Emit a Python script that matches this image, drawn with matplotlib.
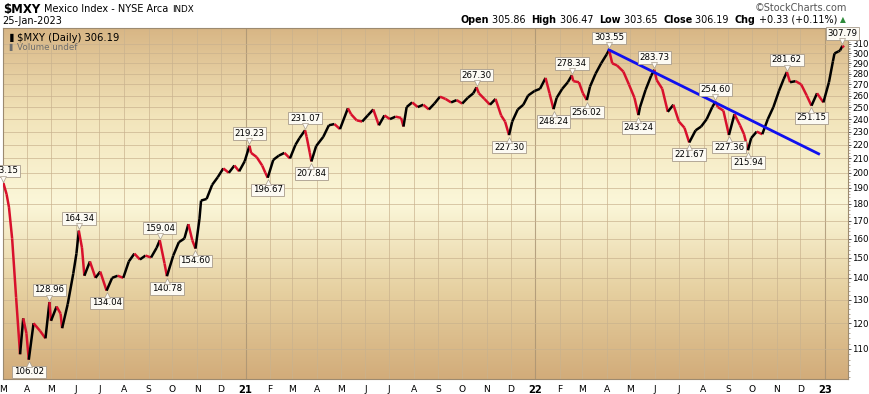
import matplotlib
matplotlib.use('Agg')
import matplotlib.pyplot as plt
import matplotlib.dates as mdates
import matplotlib.transforms as mtransforms
import numpy as np
import pandas as pd
from matplotlib.collections import LineCollection
from matplotlib.colors import LinearSegmentedColormap
from matplotlib.ticker import FixedLocator, FuncFormatter, MultipleLocator, NullFormatter

# weekly-ish closes (plus the labelled turning points)
dates = [
    '2020-03-02', '2020-03-06', '2020-03-09', '2020-03-13', '2020-03-18', '2020-03-23', '2020-03-27',
    '2020-03-31', '2020-04-03', '2020-04-09', '2020-04-17', '2020-04-24', '2020-04-29', '2020-05-01',
    '2020-05-08', '2020-05-13', '2020-05-15', '2020-05-22', '2020-05-29', '2020-06-02', '2020-06-05',
    '2020-06-09', '2020-06-12', '2020-06-19', '2020-06-26', '2020-07-02', '2020-07-10', '2020-07-17',
    '2020-07-24', '2020-07-31', '2020-08-07', '2020-08-14', '2020-08-21', '2020-08-28', '2020-09-04',
    '2020-09-11', '2020-09-15', '2020-09-21', '2020-09-24', '2020-10-02', '2020-10-09', '2020-10-16',
    '2020-10-21', '2020-10-26', '2020-10-30', '2020-11-04', '2020-11-06', '2020-11-13', '2020-11-20',
    '2020-11-27', '2020-12-04', '2020-12-11', '2020-12-18', '2020-12-24', '2020-12-31', '2021-01-06',
    '2021-01-08', '2021-01-15', '2021-01-22', '2021-01-26', '2021-01-29', '2021-02-05', '2021-02-12',
    '2021-02-19', '2021-02-26', '2021-03-05', '2021-03-10', '2021-03-17', '2021-03-19', '2021-03-23',
    '2021-03-25', '2021-03-31', '2021-04-09', '2021-04-16', '2021-04-23', '2021-04-30', '2021-05-10',
    '2021-05-14', '2021-05-21', '2021-05-28', '2021-06-04', '2021-06-11', '2021-06-18', '2021-06-25',
    '2021-07-02', '2021-07-09', '2021-07-16', '2021-07-19', '2021-07-23', '2021-07-30', '2021-08-06',
    '2021-08-13', '2021-08-20', '2021-08-27', '2021-09-03', '2021-09-10', '2021-09-17', '2021-09-24',
    '2021-10-01', '2021-10-08', '2021-10-15', '2021-10-19', '2021-10-22', '2021-10-29', '2021-11-05',
    '2021-11-12', '2021-11-19', '2021-11-24', '2021-11-29', '2021-12-03', '2021-12-10', '2021-12-17',
    '2021-12-23', '2021-12-31', '2022-01-07', '2022-01-14', '2022-01-19', '2022-01-24', '2022-01-28',
    '2022-02-04', '2022-02-11', '2022-02-16', '2022-02-18', '2022-02-25', '2022-03-02', '2022-03-07',
    '2022-03-11', '2022-03-18', '2022-03-25', '2022-04-01', '2022-04-04', '2022-04-08', '2022-04-14',
    '2022-04-22', '2022-04-29', '2022-05-06', '2022-05-11', '2022-05-13', '2022-05-20', '2022-05-27',
    '2022-05-31', '2022-06-03', '2022-06-10', '2022-06-17', '2022-06-24', '2022-07-01', '2022-07-08',
    '2022-07-14', '2022-07-22', '2022-07-29', '2022-08-05', '2022-08-12', '2022-08-16', '2022-08-19',
    '2022-08-26', '2022-09-02', '2022-09-09', '2022-09-16', '2022-09-21', '2022-09-26', '2022-09-30',
    '2022-10-07', '2022-10-14', '2022-10-21', '2022-10-28', '2022-11-04', '2022-11-10', '2022-11-14',
    '2022-11-18', '2022-11-25', '2022-12-02', '2022-12-09', '2022-12-15', '2022-12-22', '2022-12-30',
    '2023-01-06', '2023-01-11', '2023-01-13', '2023-01-18', '2023-01-20', '2023-01-23', '2023-01-25',
]
closes = [
    193.15, 186, 178, 160, 131, 108, 122,
    116, 106.02, 120, 117, 114, 128.96, 121,
    127, 124, 118, 128, 142, 152, 164.34,
    155, 141, 148, 140, 143, 134.04, 140,
    141, 140, 148, 152, 149, 151, 150,
    155, 159.04, 147, 140.78, 151, 158, 160,
    168, 159, 154.60, 171, 182, 183, 192,
    197, 203, 200, 205, 201, 208, 219.23,
    214, 211, 205, 200, 196.67, 209, 212,
    214, 210, 220, 225, 231.07, 226, 214,
    207.84, 219, 226, 235, 236, 232, 249,
    244, 239, 238, 243, 248, 235, 243,
    240, 242, 241, 234, 250, 254, 250,
    252, 248, 253, 259, 257, 254, 256,
    253, 258, 262, 267.30, 262, 257, 252,
    257, 243, 238, 227.30, 238, 248, 252,
    260, 264, 266, 276, 262, 248.24, 258,
    266, 272, 278.34, 273, 272, 262, 256.02,
    268, 280, 290, 299, 303.55, 290, 288,
    282, 270, 258, 243.24, 250, 265, 278,
    283.73, 274, 266, 246, 252, 238, 233,
    221.67, 231, 234, 240, 250, 254.60, 250,
    247, 227.36, 244, 235, 228, 215.94, 225,
    230, 228, 240, 250, 264, 275, 281.62,
    272, 273, 270, 260, 251.15, 262, 254,
    272, 292, 300, 302, 303, 307.79, 306.19,
]

label_dates = ['2020-03-02', '2020-04-03', '2020-04-29', '2020-06-05', '2020-07-10', '2020-09-15',
               '2020-09-24', '2020-10-30', '2021-01-06', '2021-01-29', '2021-03-17', '2021-03-25',
               '2021-10-19', '2021-11-29', '2022-01-24', '2022-02-16', '2022-03-07', '2022-04-04',
               '2022-05-11', '2022-05-31', '2022-07-14', '2022-08-16', '2022-09-02', '2022-09-26',
               '2022-11-14', '2022-12-15', '2023-01-23']
label_values = [193.15, 106.02, 128.96, 164.34, 134.04, 159.04,
                140.78, 154.60, 219.23, 196.67, 231.07, 207.84,
                267.30, 227.30, 248.24, 278.34, 256.02, 303.55,
                243.24, 283.73, 221.67, 254.60, 227.36, 215.94,
                281.62, 251.15, 307.79]
label_side = ['hi', 'lo', 'hi', 'hi', 'lo', 'hi',
              'lo', 'lo', 'hi', 'lo', 'hi', 'lo',
              'hi', 'lo', 'lo', 'hi', 'lo', 'hi',
              'lo', 'hi', 'lo', 'hi', 'lo', 'lo',
              'hi', 'lo', 'hi']

# hand-drawn trend line
trend_dates = ['2022-04-04', '2022-12-24']
trend_values = [303.55, 213.3]

y_ticks = [110, 120, 130, 140, 150, 160, 170, 180, 190, 200, 210, 220,
           230, 240, 250, 260, 270, 280, 290, 300, 310]

plt.rcParams['font.family'] = ['DejaVu Sans']

fig = plt.figure(figsize=(8.7, 3.94), dpi=100)
ax = fig.add_axes([3 / 870, 15 / 394, 845 / 870, 351 / 394])

# background gradient
bg = LinearSegmentedColormap.from_list('bg', ['#d2ac7a', '#e6d0a0', '#fbf7d9', '#f2e4ba', '#d8b685'])
grad = np.linspace(0, 1, 256).reshape(-1, 1)
ax.imshow(grad, cmap=bg, extent=[0, 1, 0, 1], transform=ax.transAxes, aspect='auto',
          origin='lower', zorder=0)

x = mdates.date2num(pd.to_datetime(dates))
c = np.array(closes)
segs = [[(x[i - 1], c[i - 1]), (x[i], c[i])] for i in range(1, len(c))]
cols = ['#000000' if c[i] >= c[i - 1] else '#d8102c' for i in range(1, len(c))]
ax.add_collection(LineCollection(segs, colors=cols, linewidths=1.8, zorder=3, capstyle='butt'))

tx = mdates.date2num(pd.to_datetime(trend_dates))
ax.plot(tx, trend_values, color='#1010ee', lw=2, zorder=4)

ax.set_yscale('log')
ax.set_ylim(99.3, 327)
ax.set_xlim(mdates.date2num(pd.Timestamp('2020-03-01 12:00')),
            mdates.date2num(pd.Timestamp('2023-01-30')))

# grid
months = pd.date_range('2020-04-01', '2023-01-01', freq='MS')
for m in months:
    ax.axvline(mdates.date2num(m), color='#a89272' if m.month == 1 else '#c9b28e',
               lw=0.8 if m.month == 1 else 0.6, zorder=1, alpha=0.8)
for v in y_ticks:
    ax.axhline(v, color='#c9b28e', lw=0.6, zorder=1, alpha=0.8)

ax.yaxis.tick_right()
ax.yaxis.set_major_locator(FixedLocator(y_ticks))
ax.yaxis.set_major_formatter(FuncFormatter(lambda v, p: '%d' % v))
ax.yaxis.set_minor_locator(MultipleLocator(2))
ax.yaxis.set_minor_formatter(NullFormatter())
ax.tick_params(axis='y', which='major', length=2, width=0.6, labelsize=6.2, pad=1, colors='#333333',
               labelcolor='black')
ax.tick_params(axis='y', which='minor', length=1.2, width=0.5, colors='#9a8a70')

tick_months = pd.date_range('2020-03-01', '2023-01-01', freq='MS')
ax.xaxis.set_major_locator(FixedLocator(mdates.date2num(tick_months)))
ax.xaxis.set_major_formatter(NullFormatter())
ax.tick_params(axis='x', length=0)
for m in tick_months:
    if m.month == 1:
        ax.text(mdates.date2num(m), -0.03, m.strftime('%y'), transform=ax.get_xaxis_transform(),
                ha='center', va='center', fontsize=7.2, fontweight='bold')
    else:
        ax.text(mdates.date2num(m), -0.03, m.strftime('%b')[0], transform=ax.get_xaxis_transform(),
                ha='center', va='center', fontsize=6.6)

for s in ax.spines.values():
    s.set_color('#9c8a70')
    s.set_linewidth(0.8)

# value labels with small pointer triangles
lx = mdates.date2num(pd.to_datetime(label_dates))
up_tr = mtransforms.offset_copy(ax.transData, fig=fig, x=0, y=3.2, units='points')
dn_tr = mtransforms.offset_copy(ax.transData, fig=fig, x=0, y=-3.2, units='points')
for xd, v, side in zip(lx, label_values, label_side):
    hi = side == 'hi'
    ax.annotate('%.2f' % v, xy=(xd, v), xytext=(0, 5.5 if hi else -5.5), textcoords='offset points',
                ha='center', va='bottom' if hi else 'top', fontsize=6.2, zorder=6,
                annotation_clip=False,
                bbox=dict(boxstyle='square,pad=0.2', fc='#fcfaf3', ec='#a89c8c', lw=0.6))
    ax.plot([xd], [v], marker='v' if hi else '^', ms=5, mfc='#fcfaf3', mec='#a89c8c', mew=0.5,
            transform=up_tr if hi else dn_tr, zorder=6.5, clip_on=False)

# legend text inside panel
ax.text(0.016, 0.972, '$MXY (Daily) 306.19', transform=ax.transAxes, fontsize=7.2,
        va='center', ha='left', zorder=7)
ax.text(0.004, 0.972, '\u2590', transform=ax.transAxes, fontsize=6, va='center', ha='left',
        color='black', zorder=7)
ax.text(0.016, 0.945, 'Volume undef', transform=ax.transAxes, fontsize=6.3,
        va='center', ha='left', color='#6e6e6e', zorder=7)
ax.text(0.004, 0.945, '\u2590', transform=ax.transAxes, fontsize=5, va='center', ha='left',
        color='#6e6e6e', zorder=7)

# header
renderer = fig.canvas.get_renderer()
t0 = fig.text(3 / 870, 1 - 9 / 394, '$MXY', fontsize=8.5, fontweight='bold', va='center', ha='left')
xh = 3 + t0.get_window_extent(renderer).width + 4
t1 = fig.text(xh / 870, 1 - 9 / 394, 'Mexico Index - NYSE Arca', fontsize=7, va='center', ha='left')
xh += t1.get_window_extent(renderer).width + 4
fig.text(xh / 870, 1 - 9 / 394, 'INDX', fontsize=6.3, va='center', ha='left')
fig.text(2 / 870, 1 - 21 / 394, '25-Jan-2023', fontsize=7, va='center', ha='left')
fig.text(847 / 870, 1 - 8 / 394, '\u00a9StockCharts.com', fontsize=7, va='center', ha='right',
         color='#555555')

pieces = [('Open', 'bold'), (' 305.86  ', 'normal'), ('High', 'bold'), (' 306.47  ', 'normal'),
          ('Low', 'bold'), (' 303.65  ', 'normal'), ('Close', 'bold'), (' 306.19  ', 'normal'),
          ('Chg', 'bold'), (' +0.33 (+0.11%)', 'normal')]
xpos = 837
for txt, w in reversed(pieces):
    t = fig.text(xpos / 870, 1 - 20 / 394, txt, fontsize=6.9, fontweight=w, va='center', ha='right')
    xpos -= t.get_window_extent(renderer).width
fig.text(840 / 870, 1 - 20 / 394, '\u25b2', fontsize=5.5, color='#2e8b3a', va='center', ha='left')

fig.savefig('out.png', dpi=100)
